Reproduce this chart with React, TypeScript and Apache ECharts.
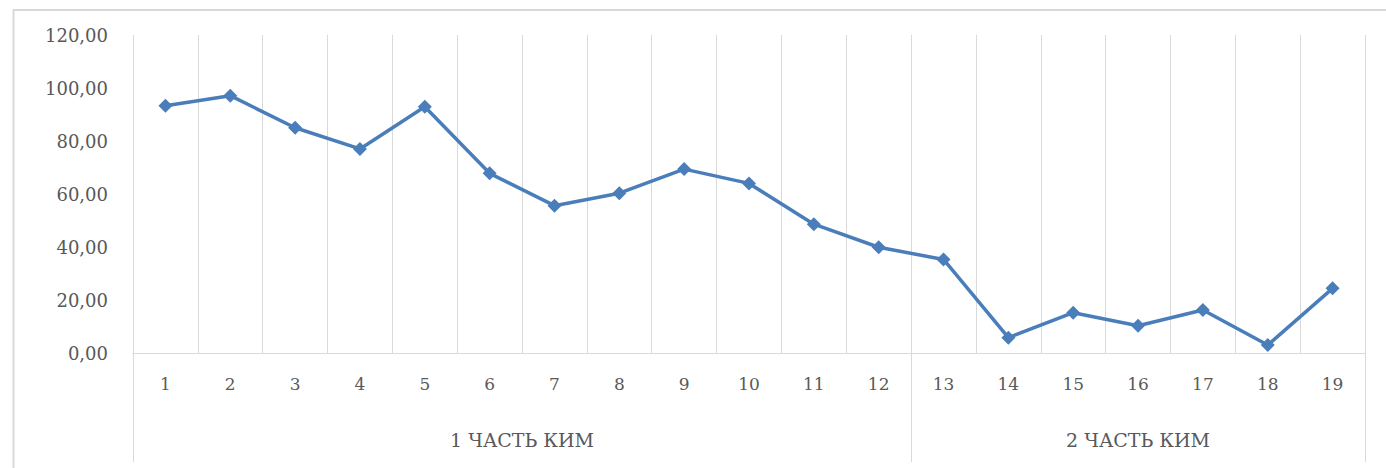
import React, { useEffect, useRef } from "react";
import * as echarts from "echarts";

const categories = ["1", "2", "3", "4", "5", "6", "7", "8", "9", "10", "11", "12", "13", "14", "15", "16", "17", "18", "19"];
const values = [93.3, 97.1, 85.0, 77.0, 92.9, 67.8, 55.6, 60.3, 69.4, 64.0, 48.6, 39.9, 35.3, 5.8, 15.2, 10.3, 16.2, 3.0, 24.4];
const groupNames = ["1 ЧАСТЬ КИМ", "2 ЧАСТЬ КИМ"];
const groupCenters = [6, 15.5];
const groupBounds = [0, 12, 19];

const FONT = "DejaVu Serif";
const TEXT = "#595959";
const GRID = "#d9d9d9";

export default function App() {
  const ref = useRef<HTMLDivElement>(null);
  useEffect(() => {
    if (!ref.current) return;
    const chart = echarts.init(ref.current, null, { renderer: "svg" });
    chart.setOption({
      animation: false,
      backgroundColor: "#ffffff",
      grid: { left: 133, right: 21, top: 35, bottom: 115, containLabel: false },
      graphic: [
        {
          type: "rect",
          shape: { x: 13.5, y: 10, width: 1400, height: 500 },
          style: { fill: "none", stroke: GRID, lineWidth: 2 },
          silent: true,
        },
      ],
      xAxis: [
        {
          type: "category",
          data: categories,
          boundaryGap: true,
          position: "bottom",
          axisLine: { show: true, lineStyle: { color: GRID, width: 1 } },
          axisTick: { show: false },
          splitLine: { show: true, interval: 0, lineStyle: { color: GRID, width: 1 } },
          axisLabel: {
            interval: 0,
            margin: 22,
            color: TEXT,
            fontFamily: FONT,
            fontSize: 17,
            lineHeight: 18,
          },
        },
        {
          type: "value",
          min: 0,
          max: 19,
          position: "bottom",
          axisLine: { show: false },
          splitLine: { show: false },
          axisTick: {
            show: true,
            customValues: groupBounds,
            length: 109,
            lineStyle: { color: GRID, width: 1 },
          },
          axisLabel: {
            show: true,
            customValues: groupCenters,
            margin: 78,
            color: TEXT,
            fontFamily: FONT,
            fontSize: 19,
            lineHeight: 18,
            formatter: (v: number) => {
              const i = groupCenters.indexOf(v);
              return i >= 0 ? groupNames[i] : "";
            },
          },
        },
      ],
      yAxis: {
        type: "value",
        min: 0,
        max: 120,
        interval: 20,
        axisLine: { show: false },
        axisTick: { show: false },
        splitLine: { show: false },
        axisLabel: {
          margin: 25,
          color: TEXT,
          fontFamily: FONT,
          fontSize: 18,
          formatter: (v: number) => v.toFixed(2).replace(".", ","),
        },
      },
      series: [
        {
          type: "line",
          data: values,
          xAxisIndex: 0,
          yAxisIndex: 0,
          symbol: "diamond",
          symbolSize: 14,
          lineStyle: { color: "#4a7ebb", width: 3.5 },
          itemStyle: { color: "#4a7ebb" },
        },
      ],
    });
    return () => chart.dispose();
  }, []);
  return (
    <div
      ref={ref}
      style={{ position: "fixed", left: 0, top: 0, width: 1386, height: 468 }}
    />
  );
}
